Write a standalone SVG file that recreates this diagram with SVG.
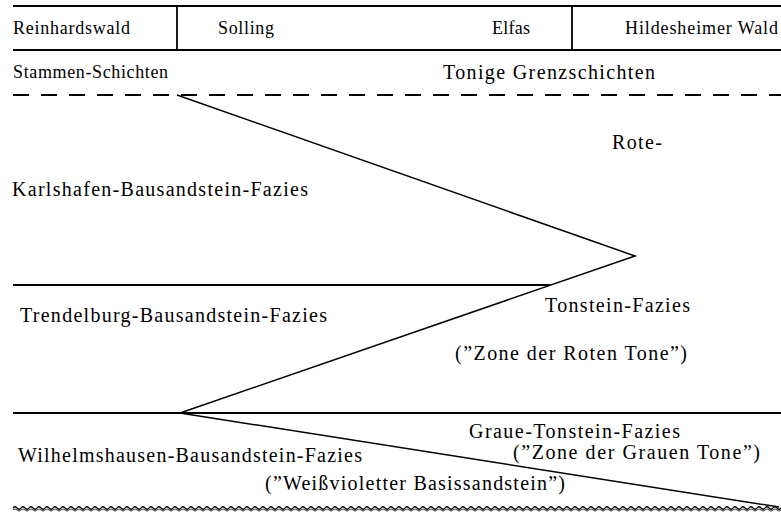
<svg xmlns="http://www.w3.org/2000/svg" width="781" height="513" viewBox="0 0 781 513">
<style>
text{font-family:'Liberation Serif','Times New Roman','DejaVu Serif',serif;fill:#000}
.h{font-size:18px}
.b{font-size:20px}
.ln{stroke:#000;stroke-width:1.8;fill:none}
.dg{stroke:#000;stroke-width:1.5;fill:none}
</style>
<defs>
<pattern id="wave" patternUnits="userSpaceOnUse" x="13" y="502" width="8" height="12">
<path d="M0 6 Q2 3.5 4 6 T8 6" stroke="#000" stroke-width="1.3" fill="none"/>
<path d="M0 8 Q2 5.8 4 8 T8 8" stroke="#000" stroke-width="0.8" fill="none"/>
</pattern>
</defs>
<rect width="781" height="513" fill="#fff"/>
<g id="connectors">
<line class="ln" x1="13" y1="6" x2="781" y2="6"/>
<line class="ln" x1="13" y1="50" x2="781" y2="50"/>
<line class="ln" x1="177" y1="6" x2="177" y2="50"/>
<line class="ln" x1="572" y1="6" x2="572" y2="50"/>
<line class="ln" x1="13" y1="95" x2="781" y2="95" stroke-dasharray="16 12"/>
<line class="ln" x1="13" y1="285" x2="550" y2="285"/>
<line class="ln" x1="13" y1="413" x2="781" y2="413"/>
<polyline class="dg" points="177,95 635,256 180,413 779,507"/>
<rect x="13" y="502" width="768" height="12" fill="url(#wave)"/>
</g>
<g id="header" font-family="Liberation Serif, serif">
<text class="h" x="13" y="34" textLength="117" lengthAdjust="spacing">Reinhardswald</text>
<text class="h" x="218" y="34" textLength="56" lengthAdjust="spacing">Solling</text>
<text class="h" x="492" y="34" textLength="38" lengthAdjust="spacing">Elfas</text>
<text class="h" x="625" y="34" textLength="153" lengthAdjust="spacing">Hildesheimer Wald</text>
</g>
<g id="stammen"><text class="h" x="13" y="78" textLength="155" lengthAdjust="spacing">Stammen-Schichten</text></g>
<g id="tonige"><text class="b" x="443" y="79" textLength="212" lengthAdjust="spacing">Tonige Grenzschichten</text></g>
<g id="rote"><text class="b" x="612" y="149" textLength="50" lengthAdjust="spacing">Rote-</text></g>
<g id="karlshafen"><text class="b" x="12" y="196" textLength="296" lengthAdjust="spacing">Karlshafen-Bausandstein-Fazies</text></g>
<g id="trendelburg"><text class="b" x="20" y="322" textLength="307" lengthAdjust="spacing">Trendelburg-Bausandstein-Fazies</text></g>
<g id="tonstein"><text class="b" x="545" y="312" textLength="145" lengthAdjust="spacing">Tonstein-Fazies</text></g>
<g id="roten-tone"><text class="b" x="455" y="360" textLength="232" lengthAdjust="spacing">(”Zone der Roten Tone”)</text></g>
<g id="graue"><text class="b" x="469" y="438" textLength="211" lengthAdjust="spacing">Graue-Tonstein-Fazies</text></g>
<g id="grauen-tone"><text class="b" x="513" y="459" textLength="247" lengthAdjust="spacing">(”Zone der Grauen Tone”)</text></g>
<g id="wilhelmshausen"><text class="b" x="18" y="462" textLength="344" lengthAdjust="spacing">Wilhelmshausen-Bausandstein-Fazies</text></g>
<g id="basis"><text class="b" x="265" y="490" textLength="300" lengthAdjust="spacing">(”Weißvioletter Basissandstein”)</text></g>
</svg>
